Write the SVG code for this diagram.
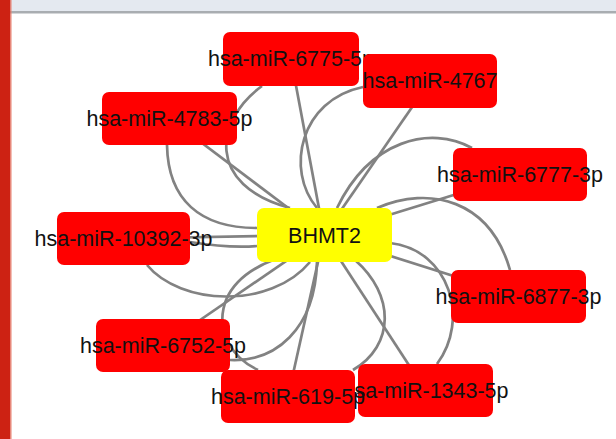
<svg xmlns="http://www.w3.org/2000/svg" width="616" height="439" viewBox="0 0 616 439">
<style>
.n rect{fill:#ff0000;}
.c rect{fill:#ffff00;}
text{font-family:"Liberation Sans",Arial,sans-serif;font-size:21.5px;fill:#111;text-anchor:middle;}
#edges path,#edges line{stroke:#828282;stroke-width:2.7;fill:none;}
</style>
<rect x="0" y="0" width="616" height="439" fill="#ffffff"/>
<rect x="10" y="0" width="606" height="11" fill="#e4e9f0"/>
<rect x="9" y="11" width="607" height="2.5" fill="#a9adb1"/>
<rect x="0" y="0" width="10.5" height="439" fill="#cd2213"/>
<rect x="10.5" y="0" width="1" height="439" fill="#e8806f"/>
<g id="edges">
<line x1="291" y1="59" x2="324" y2="235"/>
<path d="M262,86 C215,120 205,185 290,208"/>
<line x1="430" y1="81" x2="324" y2="235"/>
<path d="M363,87 C300,100 285,170 317,208"/>
<line x1="169.5" y1="118.5" x2="324" y2="235"/>
<path d="M167,145 C168,200 200,228 257,228"/>
<line x1="123.5" y1="238.5" x2="324" y2="235"/>
<path d="M190,242 C215,246 235,248 257,246"/>
<path d="M147,265 C180,305 270,310 310,262"/>
<line x1="520" y1="174.5" x2="324" y2="235"/>
<path d="M472,148 C430,125 370,140 337,208"/>
<line x1="518.5" y1="296.5" x2="324" y2="235"/>
<path d="M377,208 C430,185 490,200 510,270"/>
<line x1="425.5" y1="390.5" x2="324" y2="235"/>
<path d="M390,243 C450,250 470,320 437,364"/>
<line x1="288" y1="396.5" x2="324" y2="235"/>
<path d="M355,260 C395,295 395,345 353,370"/>
<path d="M258,370 C205,345 205,270 300,253"/>
<line x1="163" y1="345.5" x2="324" y2="235"/>
<path d="M230,360 C275,362 315,330 317,262"/>
</g>
<g id="n6775" class="n"><rect x="223" y="32" width="136" height="54" rx="7"/><text x="291" y="66">hsa-miR-6775-5p</text></g>
<g id="n4767" class="n"><rect x="363" y="54" width="134" height="54" rx="7"/><text x="430" y="88">hsa-miR-4767</text></g>
<g id="n4783" class="n"><rect x="102" y="92" width="135" height="53" rx="7"/><text x="169.5" y="126">hsa-miR-4783-5p</text></g>
<g id="n10392" class="n"><rect x="57" y="212" width="133" height="53" rx="7"/><text x="123.5" y="246">hsa-miR-10392-3p</text></g>
<g id="bhmt2" class="c"><rect x="257" y="208" width="135" height="54" rx="7"/><text x="324.5" y="243">BHMT2</text></g>
<g id="n6777" class="n"><rect x="453" y="148" width="134" height="53" rx="7"/><text x="520" y="182">hsa-miR-6777-3p</text></g>
<g id="n6877" class="n"><rect x="451" y="270" width="135" height="53" rx="7"/><text x="518.5" y="304">hsa-miR-6877-3p</text></g>
<g id="n6752" class="n"><rect x="96" y="319" width="134" height="53" rx="7"/><text x="163" y="353">hsa-miR-6752-5p</text></g>
<g id="n1343" class="n"><rect x="358" y="364" width="135" height="53" rx="7"/><text x="425.5" y="398">hsa-miR-1343-5p</text></g>
<g id="n619" class="n"><rect x="221" y="370" width="134" height="53" rx="7"/><text x="288" y="404">hsa-miR-619-5p</text></g>
</svg>
